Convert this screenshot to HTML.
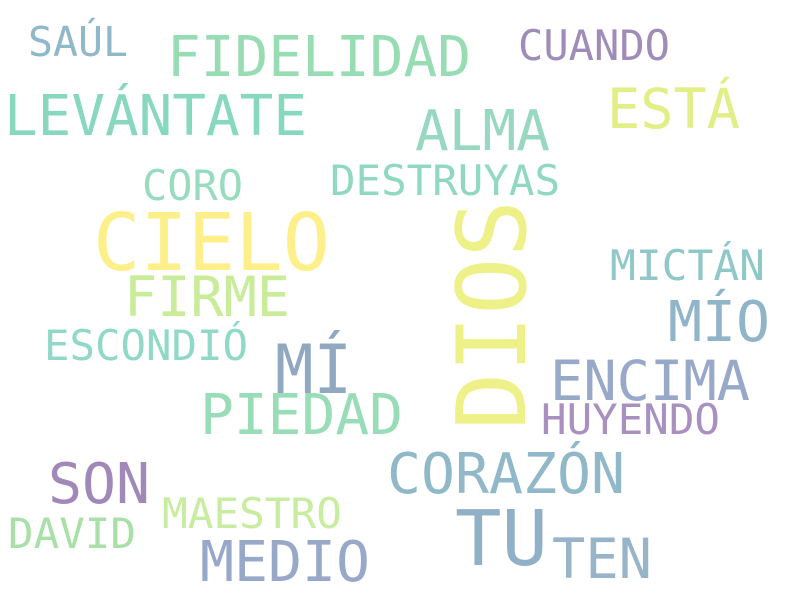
<!DOCTYPE html>
<html><head><meta charset="utf-8"><style>
html,body{margin:0;padding:0;background:#fff;}
svg{display:block;}
text{font-family:"DejaVu Sans Mono","Liberation Mono",monospace;}
</style></head><body>
<svg id="cloud" width="800" height="600" viewBox="0 0 800 600" xmlns="http://www.w3.org/2000/svg">
<rect width="800" height="600" fill="#ffffff"/>
</svg>
<script>
const words = ["SAÚL","FIDELIDAD","CUANDO","LEVÁNTATE","ALMA","ESTÁ","CORO","DESTRUYAS","CIELO","DIOS","MICTÁN","FIRME","MÍO","ESCONDIÓ","MÍ","ENCIMA","PIEDAD","HUYENDO","SON","CORAZÓN","MAESTRO","DAVID","TU","TEN","MEDIO"];
const sizes = [41,56,42,56,56,55,42,42,79,95,42,55,56,42,68,55,56,42,56,56,42,42,77,55,56];
const lefts = [28,167,518,4,415,607,142,330,93,525,610,124,668,44,275,550,200,541,48,387,162,8,455,552,200];
const bases = [56,76,60,135,150,128,200,195,270,430,280,316,341,360,393,400,434,434,503,493,528,548,565,578,581];
const widths = [100,304,152,303,135,133,101,230,237,230,155,166,102,204,77,200,203,179,102,238,180,128,93,100,170];
const rotated = [0,0,0,0,0,0,0,0,0,1,0,0,0,0,0,0,0,0,0,0,0,0,0,0,0];
const colors = ["#8fb8c8","#98dcb4","#a08cb8","#88d8c0","#98d8c0","#e2ee86","#98dcc0","#90d8c0","#fdf08a","#eef088","#90c8c8","#c8ec98","#90b4c8","#90d8c8","#90a8c0","#98a8c8","#98dcb8","#a890c0","#a088b8","#90b8c8","#c8eca0","#a8e0a8","#90b0c8","#98b4c8","#98a8c8"];
const svg = document.getElementById('cloud');
const NS = "http://www.w3.org/2000/svg";
words.forEach((w,i)=>{
  const t = document.createElementNS(NS,'text');
  
  
  t.setAttribute('font-size', sizes[i]);
  t.setAttribute('fill', colors[i]);
  t.setAttribute('textLength', widths[i]);
  t.setAttribute('lengthAdjust', 'spacingAndGlyphs');
  if (rotated[i]) {
    t.setAttribute('x', 0);
    t.setAttribute('y', 0);
    t.setAttribute('transform', 'translate(' + lefts[i] + ',' + bases[i] + ') rotate(-90)');
  } else {
    t.setAttribute('x', lefts[i]);
    t.setAttribute('y', bases[i]);
  }
  t.textContent = w;
  svg.appendChild(t);
});
</script>
</body></html>
